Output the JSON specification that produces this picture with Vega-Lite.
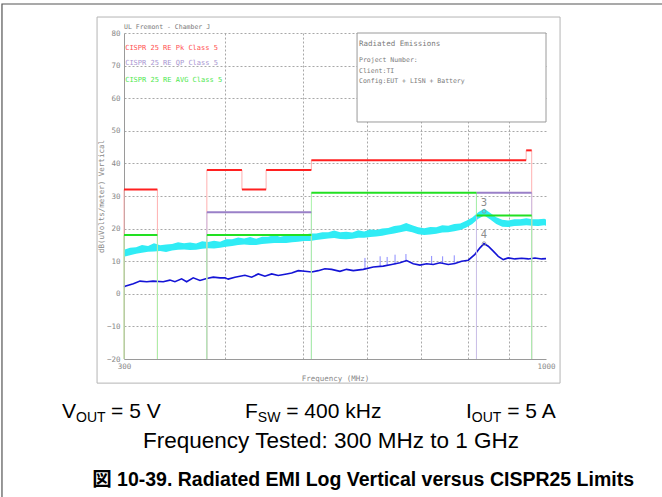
{
  "$schema": "https://vega.github.io/schema/vega-lite/v6.json",
  "width": 422,
  "height": 326,
  "autosize": "none",
  "padding": {"left": 124, "top": 33, "right": 116, "bottom": 138},
  "background": "white",
  "config": {"view": {"stroke": null}},
  "datasets": {
    "border": [{"f": 211.8, "f2": 3000, "v": 88.9, "v2": -75}],
    "frame": [{"f": 277.8, "f2": 1040.9, "v": 84.9, "v2": -27.4}],
    "box": [{"f": 583.3, "f2": 1000, "v": 80, "v2": 52.7}],
    "cyan": [
      {"f": 300, "v": 11.4, "v2": 13.5}, {"f": 305.2, "v": 11.8, "v2": 14.1}, {"f": 310.5, "v": 12.3, "v2": 14.3},
      {"f": 315.8, "v": 12.6, "v2": 15.0}, {"f": 321.3, "v": 12.9, "v2": 14.7}, {"f": 326.8, "v": 13.0, "v2": 15.5},
      {"f": 332.5, "v": 13.1, "v2": 14.9}, {"f": 338.2, "v": 12.8, "v2": 15.1}, {"f": 344.1, "v": 13.3, "v2": 15.3},
      {"f": 350.0, "v": 13.5, "v2": 15.8}, {"f": 356.1, "v": 13.6, "v2": 15.5}, {"f": 362.2, "v": 13.4, "v2": 15.7},
      {"f": 368.5, "v": 13.5, "v2": 15.4}, {"f": 374.9, "v": 13.8, "v2": 16.1}, {"f": 381.3, "v": 14.0, "v2": 15.9},
      {"f": 387.9, "v": 13.9, "v2": 16.3}, {"f": 394.6, "v": 14.1, "v2": 16.0}, {"f": 401.5, "v": 14.4, "v2": 16.7},
      {"f": 408.4, "v": 14.7, "v2": 16.7}, {"f": 415.5, "v": 15.0, "v2": 17.3}, {"f": 422.6, "v": 15.1, "v2": 17.0},
      {"f": 429.9, "v": 15.0, "v2": 17.4}, {"f": 437.4, "v": 15.0, "v2": 16.9}, {"f": 444.9, "v": 15.3, "v2": 17.5},
      {"f": 452.6, "v": 15.4, "v2": 17.5}, {"f": 460.4, "v": 15.6, "v2": 18.0}, {"f": 468.4, "v": 15.6, "v2": 17.5},
      {"f": 476.5, "v": 15.6, "v2": 17.9}, {"f": 484.7, "v": 15.8, "v2": 17.8}, {"f": 493.1, "v": 16.0, "v2": 18.3},
      {"f": 501.6, "v": 16.2, "v2": 18.1}, {"f": 510.3, "v": 16.2, "v2": 18.5}, {"f": 519.1, "v": 16.5, "v2": 18.5},
      {"f": 528.1, "v": 16.7, "v2": 18.9}, {"f": 537.2, "v": 17.0, "v2": 18.9}, {"f": 546.5, "v": 17.1, "v2": 19.4},
      {"f": 555.9, "v": 16.8, "v2": 18.9}, {"f": 565.5, "v": 16.7, "v2": 19.0}, {"f": 575.3, "v": 16.9, "v2": 18.8},
      {"f": 585.2, "v": 17.2, "v2": 19.5}, {"f": 595.3, "v": 17.2, "v2": 19.1}, {"f": 605.6, "v": 17.4, "v2": 19.7},
      {"f": 616.1, "v": 17.6, "v2": 19.6}, {"f": 626.7, "v": 17.8, "v2": 20.0}, {"f": 637.5, "v": 18.2, "v2": 20.2},
      {"f": 648.5, "v": 18.5, "v2": 20.8}, {"f": 659.7, "v": 18.9, "v2": 21.0}, {"f": 671.1, "v": 19.3, "v2": 21.7},
      {"f": 682.7, "v": 18.9, "v2": 21.0}, {"f": 694.5, "v": 18.3, "v2": 20.4}, {"f": 706.5, "v": 18.0, "v2": 20.1},
      {"f": 718.7, "v": 18.2, "v2": 20.5}, {"f": 731.1, "v": 18.4, "v2": 20.4}, {"f": 743.8, "v": 18.8, "v2": 21.0},
      {"f": 756.6, "v": 18.9, "v2": 20.9}, {"f": 769.7, "v": 19.2, "v2": 21.4}, {"f": 783.0, "v": 19.6, "v2": 21.6},
      {"f": 796.5, "v": 20.3, "v2": 22.4}, {"f": 810.3, "v": 21.4, "v2": 23.4}, {"f": 824.3, "v": 23.0, "v2": 25.0},
      {"f": 838.5, "v": 24.0, "v2": 26.1}, {"f": 853.0, "v": 22.8, "v2": 24.8}, {"f": 867.7, "v": 21.4, "v2": 23.5},
      {"f": 882.7, "v": 20.6, "v2": 22.7}, {"f": 898.0, "v": 20.5, "v2": 22.5}, {"f": 913.5, "v": 20.8, "v2": 22.9},
      {"f": 929.3, "v": 20.9, "v2": 22.9}, {"f": 945.3, "v": 21.0, "v2": 23.2}, {"f": 961.7, "v": 20.9, "v2": 22.9},
      {"f": 978.3, "v": 20.8, "v2": 22.9}, {"f": 995.2, "v": 21.0, "v2": 23.0}, {"f": 1000, "v": 20.9, "v2": 22.8}
    ],
    "blue": [
      {"f": 300, "v": 2.1}, {"f": 300.9, "v": 2.3}, {"f": 308.1, "v": 3.1}, {"f": 314.0, "v": 3.9}, {"f": 320.1, "v": 3.7},
      {"f": 325.9, "v": 3.9}, {"f": 335.5, "v": 3.7}, {"f": 342.0, "v": 4.2}, {"f": 346.9, "v": 3.7},
      {"f": 353.6, "v": 4.6}, {"f": 358.7, "v": 3.7}, {"f": 365.5, "v": 4.9}, {"f": 372.6, "v": 4.1},
      {"f": 379.8, "v": 4.7}, {"f": 387.0, "v": 5.1}, {"f": 394.5, "v": 4.9}, {"f": 400.1, "v": 4.9},
      {"f": 403.9, "v": 4.5}, {"f": 411.7, "v": 5.1}, {"f": 423.6, "v": 5.7}, {"f": 431.8, "v": 5.1},
      {"f": 440.0, "v": 6.1}, {"f": 448.5, "v": 5.4}, {"f": 457.2, "v": 6.1}, {"f": 465.8, "v": 5.6},
      {"f": 477.1, "v": 6.1}, {"f": 484.0, "v": 6.4}, {"f": 493.2, "v": 7.1}, {"f": 502.7, "v": 6.9},
      {"f": 512.4, "v": 6.7}, {"f": 522.1, "v": 7.1}, {"f": 532.2, "v": 7.7}, {"f": 542.5, "v": 7.5},
      {"f": 555.5, "v": 6.9}, {"f": 566.2, "v": 7.5}, {"f": 577.0, "v": 7.1}, {"f": 593.7, "v": 7.5},
      {"f": 610.9, "v": 8.2}, {"f": 628.5, "v": 8.5}, {"f": 643.8, "v": 9.0}, {"f": 659.2, "v": 9.5},
      {"f": 671.9, "v": 10.2}, {"f": 684.7, "v": 9.2}, {"f": 697.9, "v": 8.8}, {"f": 711.4, "v": 9.2},
      {"f": 724.9, "v": 9.0}, {"f": 738.9, "v": 9.5}, {"f": 756.6, "v": 9.0}, {"f": 771.2, "v": 9.3},
      {"f": 786.1, "v": 10.0}, {"f": 801.1, "v": 10.3}, {"f": 816.5, "v": 12.1}, {"f": 828.3, "v": 14.1},
      {"f": 837.8, "v": 15.4}, {"f": 848.1, "v": 14.6}, {"f": 860.3, "v": 13.1}, {"f": 872.6, "v": 11.5},
      {"f": 885.2, "v": 10.5}, {"f": 897.9, "v": 11.0}, {"f": 915.2, "v": 10.7}, {"f": 932.9, "v": 10.9},
      {"f": 950.7, "v": 10.7}, {"f": 969.0, "v": 11.0}, {"f": 987.7, "v": 10.7}, {"f": 1000, "v": 10.8}
    ],
    "spikes": [
      {"f": 596.6, "v": 7.5, "v2": 11.0}, {"f": 623.0, "v": 8.3, "v2": 11.5}, {"f": 635.6, "v": 8.6, "v2": 11.3},
      {"f": 650.1, "v": 9.0, "v2": 12.0}, {"f": 670.6, "v": 10.0, "v2": 12.2}, {"f": 721.6, "v": 9.0, "v2": 11.6},
      {"f": 744.6, "v": 9.2, "v2": 11.5}, {"f": 769.7, "v": 9.3, "v2": 11.8}
    ],
    "limv": [
      {"s": "Pk", "f": 300, "v": 32, "v2": -20}, {"s": "Pk", "f": 330, "v": 32, "v2": -20},
      {"s": "Pk", "f": 380, "v": 38, "v2": -20}, {"s": "Pk", "f": 420, "v": 38, "v2": 32},
      {"s": "Pk", "f": 450, "v": 32, "v2": 38}, {"s": "Pk", "f": 512, "v": 38, "v2": 41},
      {"s": "Pk", "f": 945, "v": 41, "v2": 44}, {"s": "Pk", "f": 960, "v": 44, "v2": -20},
      {"s": "QP", "f": 380, "v": 25, "v2": -20}, {"s": "QP", "f": 512, "v": 25, "v2": -20},
      {"s": "QP", "f": 820, "v": 31, "v2": -20}, {"s": "QP", "f": 960, "v": 31, "v2": -20},
      {"s": "AVG", "f": 300, "v": 18, "v2": -20}, {"s": "AVG", "f": 330, "v": 18, "v2": -20},
      {"s": "AVG", "f": 380, "v": 18, "v2": -20}, {"s": "AVG", "f": 512, "v": 31, "v2": -20},
      {"s": "AVG", "f": 820, "v": 31, "v2": 24}, {"s": "AVG", "f": 960, "v": 24, "v2": -20}
    ],
    "limh": [
      {"s": "Pk", "f": 300, "f2": 330, "v": 32}, {"s": "Pk", "f": 380, "f2": 420, "v": 38},
      {"s": "Pk", "f": 420, "f2": 450, "v": 32}, {"s": "Pk", "f": 450, "f2": 512, "v": 38},
      {"s": "Pk", "f": 512, "f2": 945, "v": 41}, {"s": "Pk", "f": 945, "f2": 960, "v": 44},
      {"s": "QP", "f": 380, "f2": 512, "v": 25}, {"s": "QP", "f": 820, "f2": 960, "v": 31},
      {"s": "AVG", "f": 300, "f2": 330, "v": 18}, {"s": "AVG", "f": 380, "f2": 512, "v": 18},
      {"s": "AVG", "f": 512, "f2": 820, "v": 31}, {"s": "AVG", "f": 820, "f2": 960, "v": 24}
    ],
    "markerPts": [{"f": 838, "v": 25.3}, {"f": 838, "v": 15.4}],
    "markerLbl": [{"t": "3", "f": 838, "v": 28.0}, {"t": "4", "f": 838, "v": 17.9}],
    "legend": [
      {"s": "Pk", "t": "CISPR 25 RE Pk Class 5", "f": 301, "v": 75.3},
      {"s": "QP", "t": "CISPR 25 RE QP Class 5", "f": 301, "v": 70.9},
      {"s": "AVG", "t": "CISPR 25 RE AVG Class 5", "f": 301, "v": 65.6}
    ],
    "notes": [
      {"t": "UL Fremont - Chamber J", "f": 300, "v": 81.8},
      {"t": "Project Number:", "f": 586.6, "v": 71.6},
      {"t": "Client:TI", "f": 586.6, "v": 68.4},
      {"t": "Config:EUT + LISN + Battery", "f": 586.6, "v": 65.2}
    ],
    "boxtitle": [{"t": "Radiated Emissions", "f": 586.6, "v": 76.5}],
    "capMain": [
      {"t": "V", "f": 251.4, "v": -38.1}, {"t": "= 5 V", "f": 289.1, "v": -38.1},
      {"t": "F", "f": 423.7, "v": -38.1}, {"t": "= 400 kHz", "f": 476.6, "v": -38.1},
      {"t": "I", "f": 796.0, "v": -38.1}, {"t": "= 5 A", "f": 895.4, "v": -38.1}
    ],
    "capSub": [{"t": "OUT", "f": 261.6, "v": -39.3}, {"t": "SW", "f": 439.5, "v": -39.3}, {"t": "OUT", "f": 809.3, "v": -39.3}],
    "capFreq": [{"t": "Frequency Tested: 300 MHz to 1 GHz", "f": 541.5, "v": -47.3}],
    "capTitle": [{"t": "図 10-39. Radiated EMI Log Vertical versus CISPR25 Limits", "f": 593.4, "v": -59.0}]
  },
  "encoding": {
    "x": {
      "field": "f", "type": "quantitative",
      "scale": {"type": "log", "domain": [300, 1000], "nice": false, "zero": false},
      "axis": {
        "values": [300, 400, 500, 600, 700, 800, 900, 1000],
        "labelExpr": "datum.value == 300 || datum.value == 1000 ? format(datum.value, 'd') : ''",
        "grid": true, "gridDash": [2, 2], "gridColor": "#a8a8a8",
        "gridOpacity": {"condition": {"test": "datum.value == 300 || datum.value == 1000", "value": 0}, "value": 1},
        "ticks": false, "domainColor": "#9a9a9a", "labelColor": "#888888", "labelFont": "DejaVu Sans Mono",
        "labelFontSize": 7.5, "labelFlush": false, "labelOverlap": false, "labelPadding": 3,
        "title": "Frequency (MHz)", "titleFont": "DejaVu Sans Mono", "titleFontSize": 7.5,
        "titleFontWeight": "normal", "titleColor": "#888888", "titlePadding": 5
      }
    },
    "y": {
      "field": "v", "type": "quantitative",
      "scale": {"domain": [-20, 80], "nice": false, "zero": false},
      "axis": {
        "values": [-20, -10, 0, 10, 20, 30, 40, 50, 60, 70, 80],
        "grid": true, "gridDash": [2, 2], "gridColor": "#a8a8a8",
        "gridOpacity": {"condition": {"test": "datum.value == -20", "value": 0}, "value": 1},
        "ticks": false, "domainColor": "#9a9a9a", "labelColor": "#888888", "labelFont": "DejaVu Sans Mono",
        "labelFontSize": 7.5, "labelOverlap": false, "labelPadding": 4,
        "title": "dB(uVolts/meter) Vertical", "titleFont": "DejaVu Sans Mono", "titleFontSize": 7.5,
        "titleFontWeight": "normal", "titleColor": "#888888", "titlePadding": 1
      }
    }
  },
  "layer": [
    {
      "data": {"name": "border"},
      "mark": {"type": "rect", "fill": null, "stroke": "#555555", "strokeWidth": 1.2},
      "encoding": {"x2": {"field": "f2"}, "y2": {"field": "v2"}}
    },
    {
      "data": {"name": "frame"},
      "mark": {"type": "rect", "fill": null, "stroke": "#b4b4b4", "strokeWidth": 1},
      "encoding": {"x2": {"field": "f2"}, "y2": {"field": "v2"}}
    },
    {
      "data": {"name": "box"},
      "mark": {"type": "rect", "fill": "white", "stroke": "#9a9a9a", "strokeWidth": 1},
      "encoding": {"x2": {"field": "f2"}, "y2": {"field": "v2"}}
    },
    {
      "data": {"name": "cyan"},
      "mark": {"type": "area", "color": "#30ecf5", "opacity": 1},
      "encoding": {"y2": {"field": "v2"}}
    },
    {
      "data": {"name": "spikes"},
      "mark": {"type": "rule", "color": "#8a8aff", "strokeWidth": 1},
      "encoding": {"y2": {"field": "v2"}}
    },
    {
      "data": {"name": "blue"},
      "mark": {"type": "line", "color": "#1414d6", "strokeWidth": 1.6},
      "encoding": {}
    },
    {
      "data": {"name": "limv"},
      "mark": {"type": "rule", "strokeWidth": 1},
      "encoding": {
        "y2": {"field": "v2"},
        "stroke": {"field": "s", "type": "nominal", "scale": {"domain": ["Pk", "QP", "AVG"], "range": ["#ffb0b0", "#c8bde6", "#a6f2a6"]}, "legend": null}
      }
    },
    {
      "data": {"name": "limh"},
      "mark": {"type": "rule", "strokeWidth": 2},
      "encoding": {
        "x2": {"field": "f2"},
        "color": {"field": "s", "type": "nominal", "scale": {"domain": ["Pk", "QP", "AVG"], "range": ["#ff2020", "#9a80c8", "#22e022"]}, "legend": null}
      }
    },
    {
      "data": {"name": "markerPts"},
      "mark": {"type": "point", "shape": "circle", "size": 14, "filled": false, "stroke": "#8c8c8c", "strokeWidth": 1},
      "encoding": {}
    },
    {
      "data": {"name": "markerLbl"},
      "mark": {"type": "text", "font": "DejaVu Sans", "fontSize": 10, "fill": "#8c8c8c", "align": "center", "baseline": "middle"},
      "encoding": {"text": {"field": "t"}}
    },
    {
      "data": {"name": "legend"},
      "mark": {"type": "text", "font": "DejaVu Sans Mono", "fontSize": 7, "align": "left", "baseline": "middle"},
      "encoding": {
        "text": {"field": "t"},
        "fill": {"field": "s", "type": "nominal", "scale": {"domain": ["Pk", "QP", "AVG"], "range": ["#ff5050", "#a896d2", "#4ee84e"]}, "legend": null}
      }
    },
    {
      "data": {"name": "notes"},
      "mark": {"type": "text", "font": "DejaVu Sans Mono", "fontSize": 6.5, "fill": "#7a7a7a", "align": "left", "baseline": "middle"},
      "encoding": {"text": {"field": "t"}}
    },
    {
      "data": {"name": "boxtitle"},
      "mark": {"type": "text", "font": "DejaVu Sans Mono", "fontSize": 7.5, "fill": "#7a7a7a", "align": "left", "baseline": "middle"},
      "encoding": {"text": {"field": "t"}}
    },
    {
      "data": {"name": "capMain"},
      "mark": {"type": "text", "font": "Liberation Sans", "fontSize": 21, "fill": "#000000", "align": "left", "baseline": "alphabetic"},
      "encoding": {"text": {"field": "t"}}
    },
    {
      "data": {"name": "capSub"},
      "mark": {"type": "text", "font": "Liberation Sans", "fontSize": 14, "fill": "#000000", "align": "left", "baseline": "alphabetic"},
      "encoding": {"text": {"field": "t"}}
    },
    {
      "data": {"name": "capFreq"},
      "mark": {"type": "text", "font": "Liberation Sans", "fontSize": 22.5, "fill": "#000000", "align": "center", "baseline": "alphabetic"},
      "encoding": {"text": {"field": "t"}}
    },
    {
      "data": {"name": "capTitle"},
      "mark": {"type": "text", "font": "Liberation Sans, Noto Sans CJK JP", "fontSize": 19.5, "fontWeight": "bold", "fill": "#000000", "align": "center", "baseline": "alphabetic"},
      "encoding": {"text": {"field": "t"}}
    }
  ]
}
